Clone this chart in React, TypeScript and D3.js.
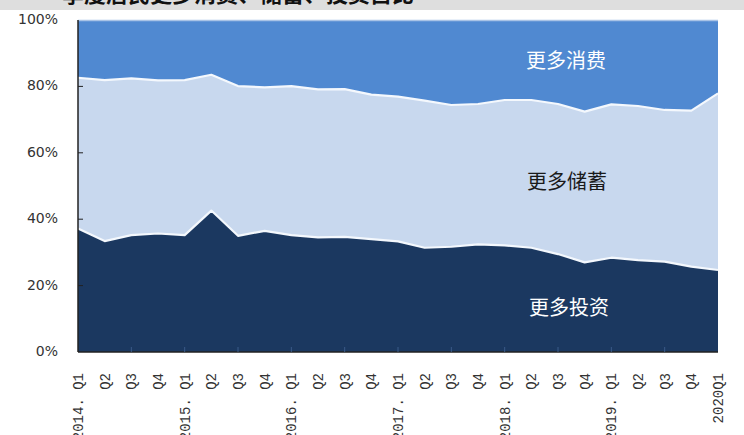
import React from "react";
import * as d3 from "d3";

// Quarter labels (rotated under the x axis)
const quarters = [
  "2014. Q1", "Q2", "Q3", "Q4",
  "2015. Q1", "Q2", "Q3", "Q4",
  "2016. Q1", "Q2", "Q3", "Q4",
  "2017. Q1", "Q2", "Q3", "Q4",
  "2018. Q1", "Q2", "Q3", "Q4",
  "2019. Q1", "Q2", "Q3", "Q4",
  "2020Q1",
];

// Share of households (%) preferring each option
const invest = [
  37.2, 33.4, 35.2, 35.7, 35.2, 42.6, 35.0, 36.5, 35.2, 34.5, 34.7, 34.0,
  33.3, 31.4, 31.7, 32.4, 32.1, 31.4, 29.5, 27.0, 28.4, 27.7, 27.2, 25.7, 24.7,
];
const save = [
  45.4, 48.5, 47.2, 46.1, 46.7, 40.9, 45.1, 43.2, 44.9, 44.6, 44.5, 43.5,
  43.6, 44.3, 42.7, 42.3, 43.8, 44.5, 45.2, 45.4, 46.2, 46.4, 45.7, 47.0, 53.2,
];
const consume = [
  17.4, 18.1, 17.6, 18.2, 18.1, 16.5, 19.9, 20.3, 19.9, 20.9, 20.8, 22.5,
  23.1, 24.3, 25.6, 25.3, 24.1, 24.1, 25.3, 27.6, 25.4, 25.9, 27.1, 27.3, 22.1,
];

const yTicks = [0, 20, 40, 60, 80, 100];
const seriesKeys = ["invest", "save", "consume"];
const seriesNames = ["更多投资", "更多储蓄", "更多消费"];
const title = "一季度居民更多消费、储蓄、投资占比";

const W = 744;
const H = 435;
const M = { left: 78, right: 26, top: 20, bottom: 83 };

export default function App() {
  const rows = quarters.map((q, i) => ({
    i,
    q,
    invest: invest[i],
    save: save[i],
    consume: consume[i],
  }));

  const x = d3
    .scaleLinear()
    .domain([0, quarters.length - 1])
    .range([M.left, W - M.right]);
  const y = d3.scaleLinear().domain([0, 100]).range([H - M.bottom, M.top]);

  const stacked = d3.stack<any>().keys(seriesKeys)(rows);

  const area = d3
    .area<any>()
    .x((d) => x(d.data.i))
    .y0((d) => y(d[0]))
    .y1((d) => y(d[1]));
  const topLine = d3
    .line<any>()
    .x((d) => x(d.data.i))
    .y((d) => y(d[1]));

  const fills: Record<string, string> = {
    invest: "#1b3860",
    save: "#c8d8ee",
    consume: "#5089d1",
  };

  const labelPos = [
    { key: "invest", x: 569, y: 310, color: "#ffffff" },
    { key: "save", x: 567, y: 184, color: "#1a1a1a" },
    { key: "consume", x: 566, y: 63, color: "#ffffff" },
  ];

  const x0 = x(0);
  const yBase = y(0);

  return (
    <svg
      width={W}
      height={H}
      style={{ position: "absolute", left: 0, top: 0, background: "#fff" }}
    >
      {/* header band, title runs off the top */}
      <rect x={0} y={0} width={W} height={10} fill="#dedede" />
      <text
        x={40}
        y={2}
        fontFamily="'Noto Sans CJK SC', sans-serif"
        fontSize={22}
        fontWeight={700}
        fill="#111"
      >
        {title}
      </text>

      {stacked.map((s) => (
        <path key={s.key} d={area(s) || ""} fill={fills[s.key]} />
      ))}
      {stacked.slice(0, 2).map((s) => (
        <path
          key={"l" + s.key}
          d={topLine(s) || ""}
          fill="none"
          stroke="#f4f8fd"
          strokeWidth={2.2}
          strokeLinejoin="round"
        />
      ))}
      <line
        x1={x0}
        x2={x(quarters.length - 1)}
        y1={y(100) + 0.5}
        y2={y(100) + 0.5}
        stroke="#a9c3e6"
        strokeWidth={1.5}
      />

      {labelPos.map((l) => (
        <text
          key={l.key}
          x={l.x}
          y={l.y}
          textAnchor="middle"
          dominantBaseline="middle"
          fontFamily="'Noto Sans CJK SC', sans-serif"
          fontSize={20}
          fill={l.color}
        >
          {seriesNames[seriesKeys.indexOf(l.key)]}
        </text>
      ))}

      {/* axes */}
      <line x1={x0} x2={x0} y1={y(100)} y2={yBase} stroke="#222" strokeWidth={1.5} />
      <line
        x1={x0}
        x2={x(quarters.length - 1)}
        y1={yBase}
        y2={yBase}
        stroke="#222"
        strokeWidth={1.5}
      />
      {yTicks.map((t) => (
        <g key={t}>
          {t > 0 && t < 100 && (
            <line x1={x0} x2={x0 + 5} y1={y(t)} y2={y(t)} stroke="#222" strokeWidth={1} />
          )}
          <text
            x={58}
            y={y(t)}
            textAnchor="end"
            dominantBaseline="middle"
            fontFamily="'DejaVu Sans', sans-serif"
            fontSize={14}
            fill="#333"
          >
            {t + "%"}
          </text>
        </g>
      ))}
      {quarters.map((q, i) => (
        <g key={i}>
          {i % 2 === 0 && i > 0 && i < quarters.length - 1 && (
            <line
              x1={x(i)}
              x2={x(i)}
              y1={yBase}
              y2={yBase - 5}
              stroke="#3a5a88"
              strokeWidth={1}
            />
          )}
          <text
            transform={`translate(${x(i) + 5},373) rotate(-90)`}
            textAnchor="end"
            fontFamily="'Liberation Mono', monospace"
            fontSize={14}
            fill="#333"
          >
            {q}
          </text>
        </g>
      ))}
    </svg>
  );
}
